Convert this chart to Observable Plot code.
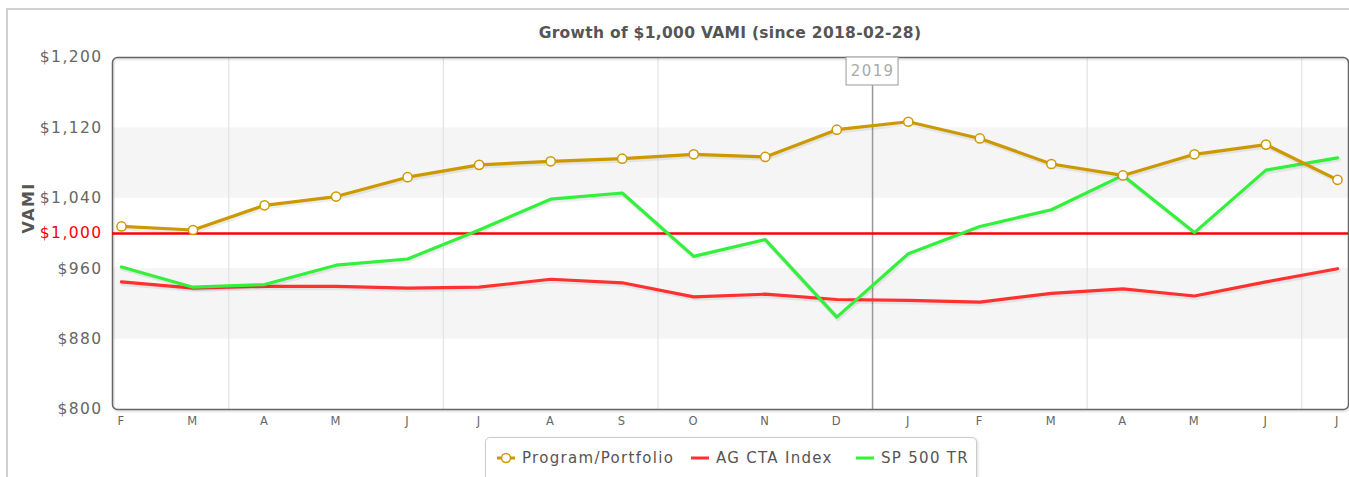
<!DOCTYPE html>
<html>
<head>
<meta charset="utf-8">
<script src="https://cdn.jsdelivr.net/npm/d3@7"></script>
<script src="https://cdn.jsdelivr.net/npm/@observablehq/plot@0.6"></script>
<style>
  html, body { margin: 0; padding: 0; background: #fff; }
  #wrap { position: relative; width: 1349px; height: 477px; overflow: hidden; font-family: "DejaVu Sans", Verdana, sans-serif; }
  #border { position: absolute; left: 6px; top: 8px; width: 1400px; height: 500px; border-top: 2px solid #d0d0d0; border-left: 2px solid #d0d0d0; }
  #chart { position: absolute; left: 0; top: 0; }
  #title { position: absolute; left: 112px; width: 1236px; top: 23px; text-align: center; font-weight: bold; font-size: 15.5px; color: #555; line-height: 20px; letter-spacing: 0.3px; }
  #legend { position: absolute; left: 485px; top: 437px; width: 490px; height: 50px; border: 1px solid #ccc; border-radius: 5px; box-shadow: 1px 1px 3px rgba(0,0,0,0.15); background: #fff; }
  .item { position: absolute; top: 10px; height: 20px; display: flex; align-items: center; font-size: 15px; color: #555; letter-spacing: 1.3px; white-space: nowrap; }
  .item svg { margin-right: 6px; }
</style>
</head>
<body>
<div id="wrap">
  <div id="border"></div>
  <div id="chart"></div>
  <div id="title">Growth of $1,000 VAMI (since 2018-02-28)</div>
  <div id="legend"></div>
</div>
<script>
// ---- data ----
const dates = ["2018-02","2018-03","2018-04","2018-05","2018-06","2018-07","2018-08","2018-09","2018-10","2018-11","2018-12","2019-01","2019-02","2019-03","2019-04","2019-05","2019-06","2019-07"];
const monthLabels = ["F","M","A","M","J","J","A","S","O","N","D","J","F","M","A","M","J","J"];
const program = [1008,1004,1032,1042,1064,1078,1082,1085,1090,1087,1118,1127,1108,1079,1066,1090,1101,1061];
const agCta   = [945,938,940,940,938,939,948,944,928,931,925,924,922,932,937,929,945,960];
const sp500   = [962,939,942,964,971,1004,1039,1046,974,993,905,977,1008,1027,1066,1001,1072,1086];
const seriesNames = ["Program/Portfolio","AG CTA Index","SP 500 TR"];
const seriesColors = ["#cc9900","#ff3030","#33f03c"];
const yTicks = [800,880,960,1040,1120,1200];
const baseValue = [1000];
const bands = [{lo:1040, hi:1120},{lo:880, hi:960}];
const quarterLines = [1.5,4.5,7.5,13.5,16.5];
const yearLine = [{x:10.5, label:"2019"}];

const idx = dates.map((d,i)=>i);
const toRows = (vals, name) => vals.map((v,i)=>({i, v, name}));
const rows = [toRows(program, seriesNames[0]), toRows(agCta, seriesNames[1]), toRows(sp500, seriesNames[2])];
const money = d => "$" + d3.format(",")(d);

const shadow = (data) => Plot.line(data, {x:"i", y:"v", stroke:"#000", strokeOpacity:0.07, strokeWidth:5, dx:1, dy:1.5});

const plot = Plot.plot({
  width: 1349, height: 477,
  marginLeft: 112, marginRight: 1, marginTop: 57, marginBottom: 68,
  style: {fontFamily: '"DejaVu Sans", Verdana, sans-serif', background: "transparent", letterSpacing: "1.4px"},
  x: {domain: [0, dates.length - 1], insetLeft: 9, insetRight: 11},
  y: {domain: [800, 1200]},
  marks: [
    Plot.rect(bands, {y1:"lo", y2:"hi", fill:"#f5f5f5"}),
    Plot.ruleX(quarterLines, {stroke:"#e3e3e3", strokeWidth:1.2}),
    Plot.ruleX(yearLine, {x:"x", stroke:"#999", strokeWidth:1.5}),
    Plot.frame({stroke:"#000", strokeOpacity:0.08, strokeWidth:3, rx:5, dx:1, dy:1.5}),
    Plot.frame({stroke:"#666", strokeWidth:1.5, rx:5}),
    Plot.ruleY(baseValue, {stroke:"#ff0000", strokeWidth:2.4}),
    shadow(rows[1]), Plot.line(rows[1], {x:"i", y:"v", stroke:seriesColors[1], strokeWidth:3.2}),
    shadow(rows[2]), Plot.line(rows[2], {x:"i", y:"v", stroke:seriesColors[2], strokeWidth:3.2}),
    shadow(rows[0]), Plot.line(rows[0], {x:"i", y:"v", stroke:seriesColors[0], strokeWidth:3.2}),
    Plot.dot(rows[0], {x:"i", y:"v", r:4.6, fill:"#fff", stroke:seriesColors[0], strokeWidth:1.5}),
    Plot.axisY(yTicks, {tickSize:0, tickPadding:10, tickFormat:money, fontSize:15.5, fill:"#666", label:null}),
    Plot.axisY(baseValue, {tickSize:0, tickPadding:10, tickFormat:money, fontSize:15.5, fill:"#ff0000", label:null}),
    Plot.axisX(idx, {tickSize:0, tickPadding:7, tickFormat:i=>monthLabels[i], fontSize:11.5, fill:"#666", label:null}),
    Plot.text(["VAMI"], {frameAnchor:"left", rotate:-90, dx:-84, fontWeight:"bold", fontSize:16, fill:"#555", letterSpacing:"1px"})
  ]
});
document.getElementById("chart").appendChild(plot);

// year plot-line label box, positioned via the x scale
const svg = d3.select(plot);
const xs = plot.scale("x");
yearLine.forEach(d => {
  const px = xs.apply(d.x);
  const g = svg.append("g");
  g.append("rect").attr("x", px - 26).attr("y", 57).attr("width", 52).attr("height", 28)
    .attr("fill", "#fff").attr("stroke", "#aaa").attr("stroke-width", 1.2);
  g.append("text").attr("x", px + 0.6).attr("y", 71).attr("text-anchor", "middle").attr("dominant-baseline", "central")
    .attr("fill", "#aaa").attr("font-size", 15).text(d.label);
});

// legend
const legend = d3.select("#legend");
const lefts = [10, 204, 369];
seriesNames.forEach((name, k) => {
  const it = legend.append("div").attr("class", "item").style("left", lefts[k] + "px");
  const s = it.append("svg").attr("width", 20).attr("height", 20);
  s.append("line").attr("x1", 1).attr("x2", 19).attr("y1", 10).attr("y2", 10).attr("stroke", seriesColors[k]).attr("stroke-width", 3);
  if (k === 0) s.append("circle").attr("cx", 10).attr("cy", 10).attr("r", 4.5).attr("fill", "#fff").attr("stroke", seriesColors[k]).attr("stroke-width", 1.5);
  it.append("span").text(name);
});
</script>
</body>
</html>
